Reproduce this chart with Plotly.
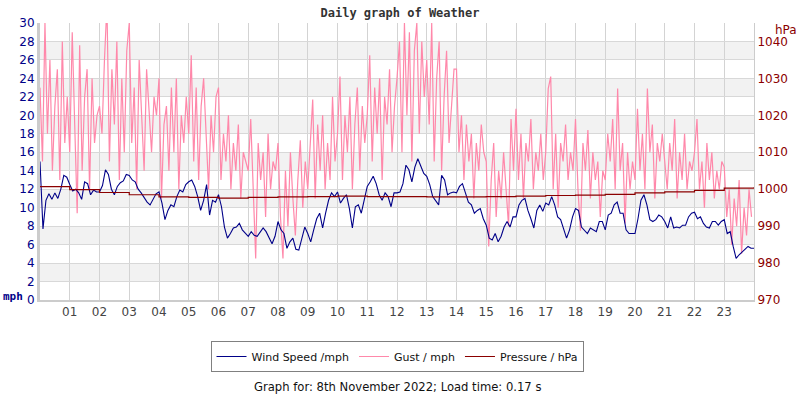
import numpy as np
import plotly.graph_objects as go

# ---------------- data ----------------
# wind speed, mph, 10 samples per hour (6-minute steps) + final point
wind_mph = [
    15.0, 7.7, 10.8, 11.5, 10.9, 11.6, 11.0, 12.0, 13.5, 13.3,
    12.5, 11.8, 12.0, 11.6, 10.9, 12.8, 12.6, 11.4, 11.9, 11.7,
    11.7, 12.4, 14.1, 13.6, 12.0, 11.4, 12.3, 12.7, 12.9, 13.6,
    13.5, 13.0, 12.8, 12.0, 11.6, 11.1, 10.6, 10.3, 10.9, 11.5,
    11.7, 10.5, 8.7, 9.7, 10.3, 10.1, 11.2, 11.9, 11.7, 12.5,
    12.8, 13.0, 12.3, 11.2, 9.7, 10.8, 12.5, 9.2, 10.8, 10.6,
    11.4, 10.1, 7.9, 6.7, 7.2, 7.8, 7.9, 8.3, 7.6, 7.2,
    6.9, 7.4, 7.0, 6.9, 7.4, 7.8, 7.4, 6.7, 6.1, 6.9,
    8.5, 7.6, 7.2, 5.6, 6.3, 6.7, 5.5, 5.4, 6.8, 7.9,
    7.2, 6.3, 7.6, 8.8, 9.4, 7.8, 9.4, 10.8, 11.6, 11.2,
    11.7, 10.5, 11.0, 11.4, 9.9, 7.8, 10.1, 10.3, 9.4, 10.8,
    12.3, 12.8, 13.4, 12.6, 11.4, 10.8, 11.6, 11.2, 10.1, 11.6,
    11.6, 11.7, 12.6, 14.6, 14.1, 12.8, 14.4, 15.3, 14.4, 13.7,
    13.4, 12.5, 11.2, 10.8, 10.3, 13.5, 13.0, 11.4, 11.6, 11.7,
    11.6, 12.3, 12.6, 11.6, 10.6, 10.3, 9.4, 9.7, 9.9, 8.8,
    8.1, 6.7, 6.5, 7.2, 6.3, 6.9, 7.9, 8.5, 7.9, 9.0,
    9.0, 10.3, 10.8, 11.0, 9.7, 8.8, 7.8, 9.7, 10.3, 9.6,
    10.5, 10.3, 11.2, 10.3, 9.0, 8.7, 7.6, 6.7, 7.6, 9.0,
    9.9, 9.7, 7.9, 7.6, 7.2, 7.8, 7.6, 7.4, 8.5, 8.5,
    7.6, 9.2, 9.4, 10.3, 10.6, 9.4, 9.4, 7.6, 7.2, 7.2,
    7.2, 8.8, 10.8, 11.4, 10.3, 8.7, 8.5, 8.7, 9.2, 9.0,
    8.5, 7.8, 9.0, 7.8, 7.9, 7.8, 8.1, 8.1, 9.0, 9.4,
    9.5, 8.8, 9.0, 8.3, 7.9, 7.8, 8.5, 8.5, 8.1, 8.5,
    8.7, 7.2, 7.4, 5.8, 4.5, 4.9, 5.2, 5.4, 5.8, 5.6,
    5.6,
]

# gust, mph, 12 samples per hour (5-minute steps)
gust_mph = [
    23, 15, 30, 18, 26, 14, 21, 25, 13, 28, 17, 22,
    16, 29, 19, 9.4, 27.6, 14, 22, 25, 12, 24, 17, 20,
    21, 18, 26, 32, 15, 25, 19, 28, 13, 24, 16, 27,
    30, 17, 23, 12, 26, 19, 14, 25, 21, 16, 22, 20,
    24, 11, 19, 21, 14, 23, 16, 24, 12, 20, 17, 22,
    18, 26.5, 15, 23, 13, 21, 24, 17, 12, 20, 16, 22,
    23, 13, 18, 15, 20, 12, 17, 14, 19, 11, 16, 15,
    14, 19.6, 12, 4.5, 17, 13, 16, 9, 18, 12, 15, 14,
    17, 9, 4.5, 14, 8, 16, 11, 7, 13, 17.3, 10, 15,
    12, 17, 21.7, 11, 19, 14, 20, 12, 17, 13, 22, 15,
    18, 24.2, 13, 20, 16, 22, 12, 19, 23, 14, 21, 17,
    20, 26.5, 15, 23, 18, 24, 13, 22, 19, 25, 16, 21,
    24, 28, 16, 30, 20, 29, 15, 27, 30, 18, 28, 22,
    26, 19, 30, 15, 24, 28, 14, 22, 27, 17, 21, 25,
    25, 16, 20, 13, 19, 15, 18, 11, 17, 14, 19, 16,
    15, 5.8, 13, 17, 9, 14, 11, 16, 12, 8, 19.6, 14,
    20.7, 13, 18, 11, 17, 15, 19.6, 12, 16, 14, 18, 13,
    16, 22.9, 24.2, 12, 18, 10, 17, 15, 19, 13, 16, 14,
    19.6, 12, 7.5, 17, 14, 18.4, 11, 16, 13, 15, 9, 14,
    13, 18, 15, 19.6, 12, 22.9, 14, 17, 8.3, 16, 12, 15,
    13, 20.7, 14, 18, 12, 22.9, 16, 19, 11, 17, 15, 18,
    15, 12, 17, 14, 19.6, 11, 16, 13, 18, 12, 15, 14,
    16, 19.6, 12, 15, 10, 17, 13, 16, 11, 14, 12, 15,
    14.4, 9, 12, 6, 11, 8, 13, 5, 10, 7, 12, 9,
]

# pressure, hPa, hourly 00..24
pressure_hpa = [
    1000.7, 999.9, 999.1, 998.5, 997.9, 997.8, 997.6, 997.8, 997.9, 998.0,
    998.1, 998.0, 998.0, 997.9, 997.9, 998.0, 998.1, 998.3, 998.4, 998.6,
    999.0, 999.3, 999.7, 1000.3, 1000.5,
]

hour_labels = ["%02d" % h for h in range(1, 24)]
mph_ticks = list(range(0, 31, 2))
hpa_ticks = list(range(970, 1041, 10))
band_ranges = [(b, b + 2) for b in range(2, 28, 4)]

wind_t = np.arange(len(wind_mph)) / 10.0
gust_t = np.arange(len(gust_mph)) / 12.0
press_t = np.arange(len(pressure_hpa)) * 1.0

NAVY = "#000088"
PINK = "#ff88aa"
DRED = "#8b0000"
FONT = "DejaVu Sans"

fig = go.Figure()
fig.add_trace(go.Scatter(x=gust_t, y=gust_mph, mode="lines", name="Gust / mph",
                         line=dict(color=PINK, width=1.2), legendrank=2))
fig.add_trace(go.Scatter(x=wind_t, y=wind_mph, mode="lines", name="Wind Speed /mph",
                         line=dict(color=NAVY, width=1.1), legendrank=1))
fig.add_trace(go.Scatter(x=press_t, y=pressure_hpa, mode="lines", name="Pressure / hPa",
                         line=dict(color=DRED, width=1.2, shape="hv"), yaxis="y2",
                         legendrank=3))

shapes = []
for lo, hi in band_ranges:
    shapes.append(dict(type="rect", xref="paper", x0=0, x1=1, yref="y", y0=lo, y1=hi,
                       fillcolor="#f2f2f2", line=dict(width=0), layer="below"))

fig.update_layout(
    width=800, height=400,
    margin=dict(l=40, r=38, t=23, b=100),
    paper_bgcolor="white", plot_bgcolor="white",
    font=dict(family=FONT, size=12, color="#333"),
    title=dict(text="<b>Daily graph of Weather</b>", x=0.5, xanchor="center",
               y=1 - 13 / 400, yanchor="middle",
               font=dict(family="DejaVu Sans Mono", size=12, color="#333")),
    shapes=shapes,
    xaxis=dict(range=[0, 24], tickvals=list(range(1, 24)), ticktext=hour_labels,
               showgrid=True, gridcolor="#d3d3d3", gridwidth=1,
               showline=True, linecolor="#cccccc", linewidth=2, mirror=False,
               ticks="", tickfont=dict(color="#444", size=12, family=FONT),
               zeroline=False, fixedrange=True),
    yaxis=dict(range=[0, 30], tickvals=mph_ticks, showgrid=True, gridcolor="#d8d8d8",
               showline=True, linecolor="#cccccc", linewidth=3,
               ticks="", tickfont=dict(color=NAVY, size=12, family=FONT),
               zeroline=False),
    yaxis2=dict(range=[970, 1045], tickvals=hpa_ticks, overlaying="y", side="right",
                showgrid=False, showline=True, linecolor="#cccccc", linewidth=1,
                ticks="", tickfont=dict(color=DRED, size=12, family=FONT),
                zeroline=False),
    legend=dict(orientation="h", x=0.5, xanchor="center", y=-41 / 277, yanchor="top",
                bordercolor="#808080", borderwidth=1, bgcolor="white",
                font=dict(family=FONT, size=11, color="#111"),
                itemwidth=30, tracegroupgap=0),
    showlegend=True,
)

fig.add_annotation(text="<b>mph</b>", xref="paper", yref="paper", x=-39 / 722,
                   xanchor="left", y=4 / 277, yanchor="middle", showarrow=False,
                   font=dict(family="DejaVu Sans Mono", size=11, color=NAVY))
fig.add_annotation(text="hPa", xref="paper", yref="paper", x=1 + 45 / 722, xanchor="right",
                   y=1 - 7 / 277, yanchor="middle", showarrow=False,
                   font=dict(family=FONT, size=12, color=DRED))
fig.add_annotation(text="Graph for: 8th November 2022; Load time: 0.17 s",
                   xref="paper", yref="paper", x=0.5, xanchor="center",
                   y=-87 / 277, yanchor="middle", showarrow=False,
                   font=dict(family=FONT, size=11.6, color="#111"))

fig.write_html("out.html")
